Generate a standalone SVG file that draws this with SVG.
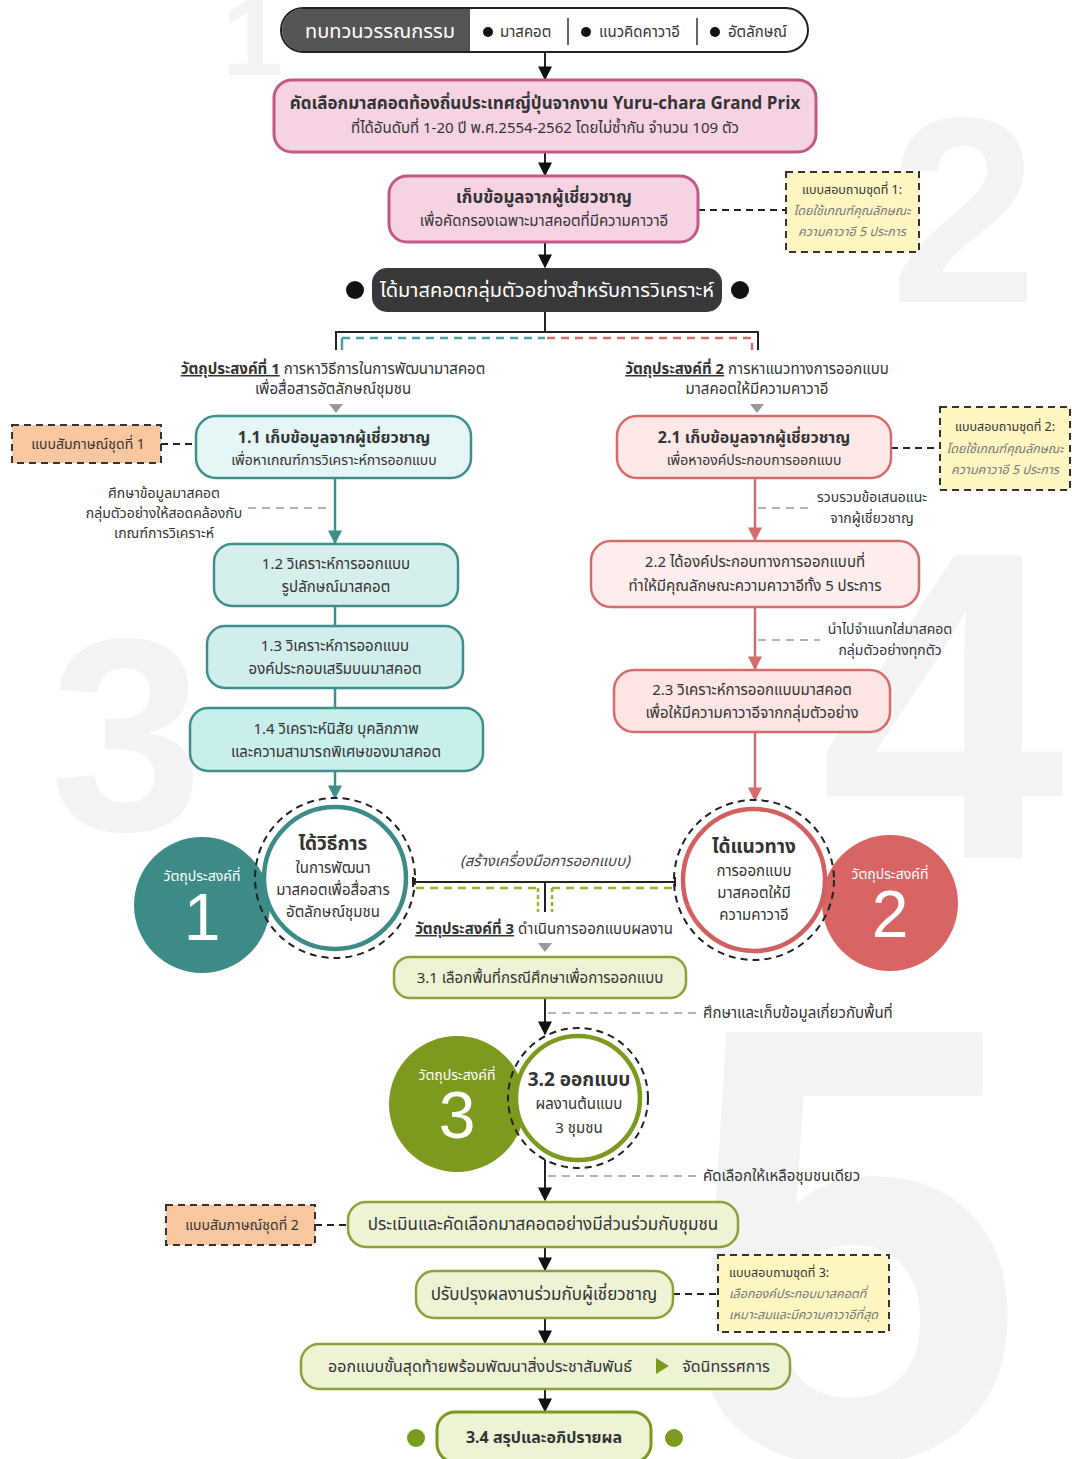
<svg xmlns="http://www.w3.org/2000/svg" width="1072" height="1459" viewBox="0 0 1072 1459">
<style>
text{font-family:"Noto Sans Thai","Tahoma","Noto Sans","DejaVu Sans",sans-serif;fill:#333;}
.c{text-anchor:middle}
.b{font-weight:bold}
.s15{font-size:15px}.s14{font-size:14px}.s16{font-size:16px}.s17{font-size:17px}.s12{font-size:12.5px}
.i{font-style:italic;fill:#777}
.wm{fill:#f3f3f3;font-family:"Liberation Sans",Arial,sans-serif;font-weight:bold}
.pink{fill:#f6d3e3;stroke:#c25985;stroke-width:3}
.teal{stroke:#3f8f8c;stroke-width:2.5}
.red{stroke:#d46c6c;stroke-width:2.5}
.grn{fill:#eef3d6;stroke:#8aa13c;stroke-width:2.5}
.yel{fill:#fff6c2;stroke:#333;stroke-width:2;stroke-dasharray:7 5}
.org{fill:#f8c7a0;stroke:#333;stroke-width:2;stroke-dasharray:7 5}
.dl{stroke:#999;stroke-width:1.5;stroke-dasharray:8 6;fill:none}
.dk{stroke:#222;stroke-width:2;stroke-dasharray:7 5;fill:none}
.ln{stroke:#222;stroke-width:2;fill:none}
</style>
<defs>
<marker id="abk" viewBox="0 0 10 10" refX="9" refY="5" markerWidth="14" markerHeight="14" markerUnits="userSpaceOnUse" orient="auto"><path d="M0,0L10,5L0,10z" fill="#111"/></marker>
<marker id="at" viewBox="0 0 10 10" refX="9" refY="5" markerWidth="14" markerHeight="14" markerUnits="userSpaceOnUse" orient="auto"><path d="M0,0L10,5L0,10z" fill="#3f8f8c"/></marker>
<marker id="ar" viewBox="0 0 10 10" refX="9" refY="5" markerWidth="14" markerHeight="14" markerUnits="userSpaceOnUse" orient="auto"><path d="M0,0L10,5L0,10z" fill="#d46c6c"/></marker>
</defs>
<rect width="1072" height="1459" fill="#fff"/>
<g id="watermarks">
<text class="wm" x="222" y="75" font-size="110">1</text>
<text class="wm" x="890" y="302" font-size="265">2</text>
<text class="wm" x="50" y="830" font-size="275">3</text>
<text class="wm" x="820" y="858" font-size="440">4</text>
<text class="wm" x="680" y="1459" font-size="620">5</text>
</g>
<g id="connectors">
<path class="ln" d="M545 52V79" marker-end="url(#abk)"/>
<path class="ln" d="M545 152V175" marker-end="url(#abk)"/>
<path class="ln" d="M545 242V267" marker-end="url(#abk)"/>
<path class="ln" d="M545 312V332M336 350V332H758V350"/>
<path d="M342 338H545" stroke="#4aa3a0" stroke-width="2.5" stroke-dasharray="8 6" fill="none"/>
<path d="M342 338V350" stroke="#4aa3a0" stroke-width="2.5" fill="none"/>
<path d="M547 338H752V350" stroke="#d46c6c" stroke-width="2.5" stroke-dasharray="8 6" fill="none"/>
<path d="M329 404H343L336 413z" fill="#999"/>
<path d="M750 404H764L757 413z" fill="#999"/>
<path class="dk" d="M698 210H786"/>
<path class="dk" d="M161 444H196"/>
<path class="dk" d="M891 448H940"/>
<path d="M335 478V543" stroke="#3f8f8c" stroke-width="2.5" marker-end="url(#at)"/>
<path class="dl" d="M248 508H328"/>
<path d="M335 606V626M335 688V708" stroke="#3f8f8c" stroke-width="2.5"/>
<path d="M335 771V798" stroke="#3f8f8c" stroke-width="2.5" marker-end="url(#at)"/>
<path d="M755 478V540" stroke="#d46c6c" stroke-width="2.5" marker-end="url(#ar)"/>
<path class="dl" d="M758 508H808"/>
<path d="M755 607V669" stroke="#d46c6c" stroke-width="2.5" marker-end="url(#ar)"/>
<path class="dl" d="M758 640H820"/>
<path d="M755 732V800" stroke="#d46c6c" stroke-width="2.5" marker-end="url(#ar)"/>
<path class="ln" d="M413 882H675M413 877V887M675 877V887M545 882V912"/>
<path d="M416 888H536M552 888H674" stroke="#9bb531" stroke-width="2.5" stroke-dasharray="8 6" fill="none"/>
<path d="M538 888V912M552 888V912" stroke="#9bb531" stroke-width="2.5" stroke-dasharray="4 3" fill="none"/>
<path d="M538 943H552L545 952z" fill="#999"/>
<path class="ln" d="M545 998V1034" marker-end="url(#abk)"/>
<path class="dl" d="M548 1013H698"/>
<path class="ln" d="M545 1160V1200" marker-end="url(#abk)"/>
<path class="dl" d="M548 1176H698"/>
<path class="dk" d="M315 1225H348"/>
<path class="ln" d="M545 1247V1270" marker-end="url(#abk)"/>
<path class="dk" d="M673 1294H718"/>
<path class="ln" d="M545 1318V1343" marker-end="url(#abk)"/>
<path class="ln" d="M545 1389V1411" marker-end="url(#abk)"/>
</g>
<g id="n-review">
<rect x="281" y="8" width="527" height="44" rx="22" fill="#fff" stroke="#222" stroke-width="2"/>
<path d="M303 9H470V51H303A21 21 0 0 1 303 9z" fill="#555"/>
<text x="380" y="38" class="c" font-size="20" style="fill:#fff">ทบทวนวรรณกรรม</text>
<circle cx="488" cy="32" r="5" fill="#111"/>
<text x="500" y="37" class="s15">มาสคอต</text>
<path d="M568 18V45M697 18V45" stroke="#333" stroke-width="1.5"/>
<circle cx="586" cy="32" r="5" fill="#111"/>
<text x="599" y="37" class="s15">แนวคิดคาวาอี</text>
<circle cx="715" cy="32" r="5" fill="#111"/>
<text x="728" y="37" class="s15">อัตลักษณ์</text>
</g>
<g id="n-select">
<rect class="pink" x="274" y="80" width="542" height="72" rx="18"/>
<text x="545" y="109" class="c b s17">คัดเลือกมาสคอตท้องถิ่นประเทศญี่ปุ่นจากงาน Yuru-chara Grand Prix</text>
<text x="545" y="133" class="c s15">ที่ได้อันดับที่ 1-20 ปี พ.ศ.2554-2562 โดยไม่ซ้ำกัน จำนวน 109 ตัว</text>
</g>
<g id="n-expert">
<rect class="pink" x="389" y="176" width="309" height="66" rx="18"/>
<text x="544" y="203" class="c b s17">เก็บข้อมูลจากผู้เชี่ยวชาญ</text>
<text x="544" y="226" class="c s15">เพื่อคัดกรองเฉพาะมาสคอตที่มีความคาวาอี</text>
</g>
<g id="n-q1">
<rect class="yel" x="786" y="172" width="133" height="80"/>
<text x="852" y="194" class="c s12">แบบสอบถามชุดที่ 1:</text>
<text x="852" y="215" class="c s12 i">โดยใช้เกณฑ์คุณลักษณะ</text>
<text x="852" y="236" class="c s12 i">ความคาวาอี 5 ประการ</text>
</g>
<g id="n-sample">
<circle cx="355" cy="290" r="9" fill="#111"/>
<circle cx="740" cy="290" r="9" fill="#111"/>
<rect x="372" y="268" width="350" height="44" rx="15" fill="#383838"/>
<text x="547" y="297" class="c" font-size="20" style="fill:#fff">ได้มาสคอตกลุ่มตัวอย่างสำหรับการวิเคราะห์</text>
</g>
<g id="n-obj1">
<text x="333" y="374" class="c s15"><tspan class="b" text-decoration="underline">วัตถุประสงค์ที่ 1</tspan> การหาวิธีการในการพัฒนามาสคอต</text>
<text x="333" y="394" class="c s15">เพื่อสื่อสารอัตลักษณ์ชุมชน</text>
</g>
<g id="n-obj2">
<text x="757" y="374" class="c s15"><tspan class="b" text-decoration="underline">วัตถุประสงค์ที่ 2</tspan> การหาแนวทางการออกแบบ</text>
<text x="757" y="394" class="c s15">มาสคอตให้มีความคาวาอี</text>
</g>
<g id="n-int1">
<rect class="org" x="12" y="425" width="149" height="38"/>
<text x="88" y="449" class="c s14">แบบสัมภาษณ์ชุดที่ 1</text>
</g>
<g id="n-1-1">
<rect class="teal" fill="#e5f6f6" x="196" y="416" width="275" height="62" rx="20"/>
<text x="334" y="443" class="c b s16">1.1 เก็บข้อมูลจากผู้เชี่ยวชาญ</text>
<text x="334" y="465" class="c s14">เพื่อหาเกณฑ์การวิเคราะห์การออกแบบ</text>
</g>
<g id="n-note1">
<text x="164" y="498" class="c s14">ศึกษาข้อมูลมาสคอต</text>
<text x="164" y="518" class="c s14">กลุ่มตัวอย่างให้สอดคล้องกับ</text>
<text x="164" y="538" class="c s14">เกณฑ์การวิเคราะห์</text>
</g>
<g id="n-1-2">
<rect class="teal" fill="#d6efec" x="214" y="544" width="244" height="62" rx="18"/>
<text x="336" y="569" class="c s15">1.2 วิเคราะห์การออกแบบ</text>
<text x="336" y="592" class="c s15">รูปลักษณ์มาสคอต</text>
</g>
<g id="n-1-3">
<rect class="teal" fill="#d1eeec" x="207" y="626" width="256" height="62" rx="18"/>
<text x="335" y="651" class="c s15">1.3 วิเคราะห์การออกแบบ</text>
<text x="335" y="674" class="c s15">องค์ประกอบเสริมบนมาสคอต</text>
</g>
<g id="n-1-4">
<rect class="teal" fill="#c9efec" x="190" y="708" width="293" height="63" rx="18"/>
<text x="336" y="734" class="c s15">1.4 วิเคราะห์นิสัย บุคลิกภาพ</text>
<text x="336" y="757" class="c s15">และความสามารถพิเศษของมาสคอต</text>
</g>
<g id="n-2-1">
<rect class="red" fill="#fce9e7" x="617" y="416" width="274" height="62" rx="20"/>
<text x="754" y="443" class="c b s16">2.1 เก็บข้อมูลจากผู้เชี่ยวชาญ</text>
<text x="754" y="465" class="c s14">เพื่อหาองค์ประกอบการออกแบบ</text>
</g>
<g id="n-q2">
<rect class="yel" x="940" y="407" width="130" height="83"/>
<text x="1005" y="431" class="c s12">แบบสอบถามชุดที่ 2:</text>
<text x="1005" y="453" class="c s12 i">โดยใช้เกณฑ์คุณลักษณะ</text>
<text x="1005" y="474" class="c s12 i">ความคาวาอี 5 ประการ</text>
</g>
<g id="n-note2">
<text x="872" y="502" class="c s14">รวบรวมข้อเสนอแนะ</text>
<text x="872" y="523" class="c s14">จากผู้เชี่ยวชาญ</text>
</g>
<g id="n-2-2">
<rect class="red" fill="#fdeeed" x="591" y="541" width="328" height="66" rx="20"/>
<text x="755" y="567" class="c s15">2.2 ได้องค์ประกอบทางการออกแบบที่</text>
<text x="755" y="591" class="c s15">ทำให้มีคุณลักษณะความคาวาอีทั้ง 5 ประการ</text>
</g>
<g id="n-note3">
<text x="890" y="634" class="c s14">นำไปจำแนกใส่มาสคอต</text>
<text x="890" y="655" class="c s14">กลุ่มตัวอย่างทุกตัว</text>
</g>
<g id="n-2-3">
<rect class="red" fill="#fce5e3" x="614" y="670" width="276" height="62" rx="20"/>
<text x="752" y="695" class="c s15">2.3 วิเคราะห์การออกแบบมาสคอต</text>
<text x="752" y="718" class="c s15">เพื่อให้มีความคาวาอีจากกลุ่มตัวอย่าง</text>
</g>
<g id="n-goal1">
<circle cx="202" cy="905" r="68" fill="#3d8b87"/>
<text x="202" y="881" class="c s14" style="fill:#fff">วัตถุประสงค์ที่</text>
<text x="202" y="940" class="c" font-size="66" style="fill:#fff;font-family:'Liberation Sans',Arial,sans-serif">1</text>
<circle cx="335" cy="878" r="80" class="dk" fill="#fff"/>
<circle cx="335" cy="878" r="71" fill="#fff" stroke="#3d8b87" stroke-width="4.5"/>
<text x="333" y="850" class="c b" font-size="19">ได้วิธีการ</text>
<text x="333" y="873" class="c s15">ในการพัฒนา</text>
<text x="333" y="895" class="c s15">มาสคอตเพื่อสื่อสาร</text>
<text x="333" y="917" class="c s15">อัตลักษณ์ชุมชน</text>
</g>
<g id="n-goal2">
<circle cx="890" cy="903" r="68" fill="#d86464"/>
<text x="890" y="879" class="c s14" style="fill:#fff">วัตถุประสงค์ที่</text>
<text x="890" y="937" class="c" font-size="66" style="fill:#fff;font-family:'Liberation Sans',Arial,sans-serif">2</text>
<circle cx="754" cy="880" r="80" class="dk" fill="#fff"/>
<circle cx="754" cy="880" r="71" fill="#fff" stroke="#d36060" stroke-width="4.5"/>
<text x="754" y="853" class="c b" font-size="19">ได้แนวทาง</text>
<text x="754" y="876" class="c s15">การออกแบบ</text>
<text x="754" y="898" class="c s15">มาสคอตให้มี</text>
<text x="754" y="920" class="c s15">ความคาวาอี</text>
</g>
<g id="n-tool">
<text x="545" y="866" class="c s15 i" style="fill:#444">(สร้างเครื่องมือการออกแบบ)</text>
</g>
<g id="n-obj3">
<text x="544" y="934" class="c s15"><tspan class="b" text-decoration="underline">วัตถุประสงค์ที่ 3</tspan> ดำเนินการออกแบบผลงาน</text>
</g>
<g id="n-3-1">
<rect class="grn" x="394" y="957" width="292" height="41" rx="16"/>
<text x="540" y="983" class="c s15">3.1 เลือกพื้นที่กรณีศึกษาเพื่อการออกแบบ</text>
</g>
<g id="n-note4">
<text x="703" y="1018" class="s15">ศึกษาและเก็บข้อมูลเกี่ยวกับพื้นที่</text>
</g>
<g id="n-goal3">
<circle cx="457" cy="1104" r="68" fill="#7b9a1e"/>
<text x="457" y="1080" class="c s14" style="fill:#fff">วัตถุประสงค์ที่</text>
<text x="457" y="1138" class="c" font-size="66" style="fill:#fff;font-family:'Liberation Sans',Arial,sans-serif">3</text>
<circle cx="578" cy="1098" r="70" class="dk" fill="#fff"/>
<circle cx="578" cy="1098" r="62" fill="#fff" stroke="#7b9a1e" stroke-width="4.5"/>
<text x="579" y="1086" class="c b" font-size="19">3.2 ออกแบบ</text>
<text x="579" y="1109" class="c s15">ผลงานต้นแบบ</text>
<text x="579" y="1133" class="c s15">3 ชุมชน</text>
</g>
<g id="n-note5">
<text x="703" y="1181" class="s15">คัดเลือกให้เหลือชุมชนเดียว</text>
</g>
<g id="n-int2">
<rect class="org" x="166" y="1205" width="149" height="40"/>
<text x="242" y="1230" class="c s14">แบบสัมภาษณ์ชุดที่ 2</text>
</g>
<g id="n-eval">
<rect class="grn" x="348" y="1202" width="390" height="45" rx="18"/>
<text x="543" y="1230" class="c s17">ประเมินและคัดเลือกมาสคอตอย่างมีส่วนร่วมกับชุมชน</text>
</g>
<g id="n-improve">
<rect class="grn" x="416" y="1271" width="257" height="47" rx="18"/>
<text x="544" y="1300" class="c s17">ปรับปรุงผลงานร่วมกับผู้เชี่ยวชาญ</text>
</g>
<g id="n-q3">
<rect class="yel" x="718" y="1255" width="171" height="77"/>
<text x="729" y="1277" class="s12">แบบสอบถามชุดที่ 3:</text>
<text x="729" y="1298" class="s12 i">เลือกองค์ประกอบมาสคอตที่</text>
<text x="729" y="1319" class="s12 i">เหมาะสมและมีความคาวาอีที่สุด</text>
</g>
<g id="n-final">
<rect class="grn" x="301" y="1344" width="489" height="45" rx="18"/>
<text x="480" y="1372" class="c s16">ออกแบบขั้นสุดท้ายพร้อมพัฒนาสิ่งประชาสัมพันธ์</text>
<path d="M656 1358L669 1366L656 1374z" fill="#7b9a1e"/>
<text x="726" y="1372" class="c s16">จัดนิทรรศการ</text>
</g>
<g id="n-3-4">
<circle cx="416" cy="1438" r="9" fill="#7b9a1e"/>
<circle cx="674" cy="1438" r="9" fill="#7b9a1e"/>
<rect x="437" y="1412" width="214" height="50" rx="18" fill="#eef3d6" stroke="#7b9a1e" stroke-width="3"/>
<text x="544" y="1443" class="c b s16">3.4 สรุปและอภิปรายผล</text>
</g>
</svg>
